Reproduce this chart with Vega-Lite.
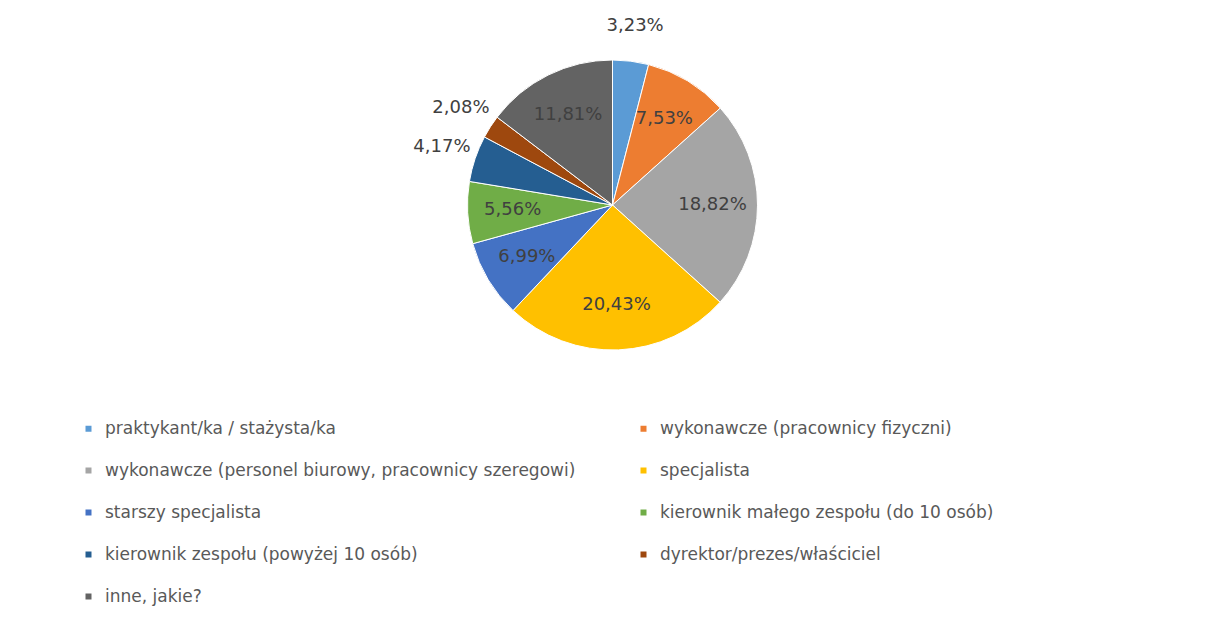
{
  "$schema": "https://vega.github.io/schema/vega-lite/v6.json",
  "width": 1185,
  "height": 410,
  "autosize": {"type": "none"},
  "padding": {"left": 20, "top": 0, "right": 0, "bottom": 215},
  "background": "white",
  "config": {"view": {"stroke": null}, "font": "DejaVu Sans"},
  "data": {"values": [
    {"kat": "praktykant/ka / stażysta/ka", "value": 3.23, "order": 1},
    {"kat": "wykonawcze (pracownicy fizyczni)", "value": 7.53, "order": 2},
    {"kat": "wykonawcze (personel biurowy, pracownicy szeregowi)", "value": 18.82, "order": 3},
    {"kat": "specjalista", "value": 20.43, "order": 4},
    {"kat": "starszy specjalista", "value": 6.99, "order": 5},
    {"kat": "kierownik małego zespołu (do 10 osób)", "value": 5.56, "order": 6},
    {"kat": "kierownik zespołu (powyżej 10 osób)", "value": 4.17, "order": 7},
    {"kat": "dyrektor/prezes/właściciel", "value": 2.08, "order": 8},
    {"kat": "inne, jakie?", "value": 11.81, "order": 9}
  ]},
  "transform": [
    {"calculate": "replace(format(datum.value, '.2f'), '.', ',') + '%'", "as": "label"}
  ],
  "encoding": {
    "theta": {"field": "value", "type": "quantitative", "stack": true},
    "order": {"field": "order", "type": "quantitative"}
  },
  "layer": [
    {
      "mark": {"type": "arc", "outerRadius": 145, "stroke": "white", "strokeWidth": 1},
      "encoding": {
        "color": {
          "field": "kat", "type": "nominal",
          "sort": ["praktykant/ka / stażysta/ka", "wykonawcze (pracownicy fizyczni)", "wykonawcze (personel biurowy, pracownicy szeregowi)", "specjalista", "starszy specjalista", "kierownik małego zespołu (do 10 osób)", "kierownik zespołu (powyżej 10 osób)", "dyrektor/prezes/właściciel", "inne, jakie?"],
          "scale": {
            "domain": ["praktykant/ka / stażysta/ka", "wykonawcze (pracownicy fizyczni)", "wykonawcze (personel biurowy, pracownicy szeregowi)", "specjalista", "starszy specjalista", "kierownik małego zespołu (do 10 osób)", "kierownik zespołu (powyżej 10 osób)", "dyrektor/prezes/właściciel", "inne, jakie?"],
            "range": ["#5B9BD5", "#ED7D31", "#A5A5A5", "#FFC000", "#4472C4", "#70AD47", "#255E91", "#9E480E", "#636363"]
          },
          "legend": {
            "title": null,
            "orient": "none",
            "legendX": 60,
            "legendY": 420,
            "columns": 2,
            "direction": "horizontal",
            "symbolType": "square",
            "symbolSize": 36,
            "symbolStrokeWidth": 0,
            "labelFontSize": 17,
            "labelFont": "DejaVu Sans",
            "labelColor": "#595959",
            "labelLimit": 0,
            "labelOffset": 8,
            "rowPadding": 24,
            "columnPadding": 59
          }
        }
      }
    },
    {
      "mark": {"type": "text", "radius": 100, "fontSize": 18, "fill": "#404040"},
      "encoding": {
        "text": {"condition": {"test": "datum.value >= 5", "field": "label"}, "value": ""}
      }
    },
    {
      "mark": {"type": "text", "radius": 180, "fontSize": 18, "fill": "#404040"},
      "encoding": {
        "text": {"condition": {"test": "datum.value < 5", "field": "label"}, "value": ""}
      }
    }
  ]
}
